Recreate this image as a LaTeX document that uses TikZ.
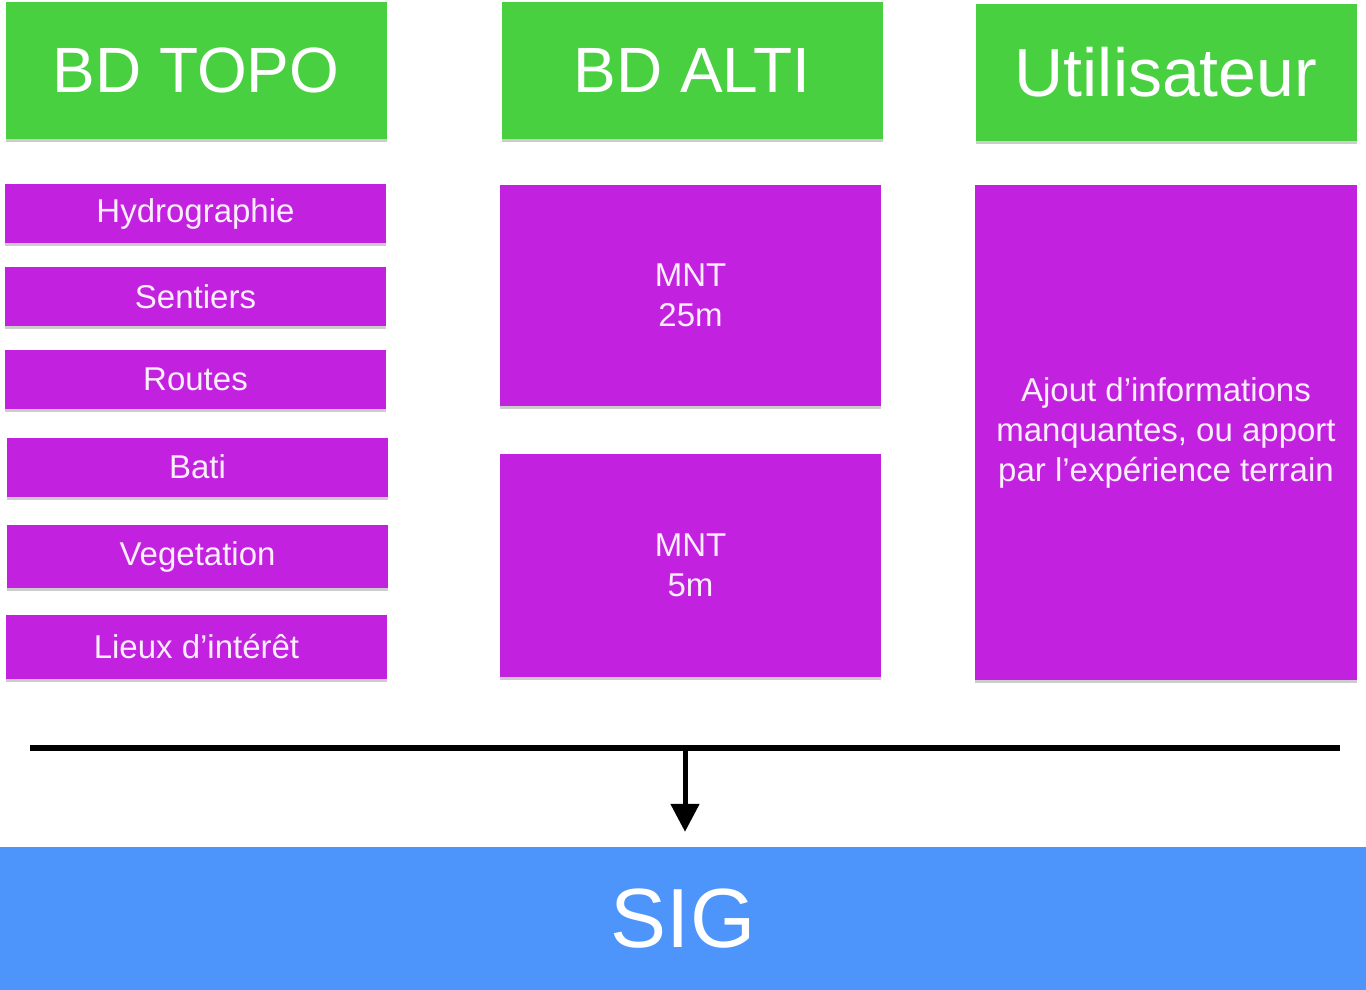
\documentclass[tikz,border=0pt]{standalone}
\usepackage{fontspec}
\setmainfont{Liberation Sans}
\usetikzlibrary{arrows.meta, positioning, shadows}
\definecolor{source_green}{RGB}{72, 208, 65}
\definecolor{layer_purple}{RGB}{194, 34, 223}
\definecolor{sig_blue}{RGB}{77, 148, 251}
\tikzset{
    source_node/.style={
        fill=source_green,
        minimum width=381pt,
        minimum height=137pt,
        inner sep=0pt,
        text=white,
        font=\fontsize{64}{70}\selectfont,
        drop shadow={shadow xshift=0pt, shadow yshift=-3pt, opacity=0.4}
    },
    layer_node/.style={
        fill=layer_purple,
        minimum width=381pt,
        minimum height=59pt,
        inner sep=0pt,
        text=white!92!layer_purple,
        align=center,
        font=\fontsize{33}{40}\selectfont,
        drop shadow={shadow xshift=0pt, shadow yshift=-3pt, opacity=0.4}
    },
    sig_node/.style={
        fill=sig_blue,
        minimum width=1366pt,
        minimum height=143pt,
        inner sep=0pt,
        text=white,
        font=\fontsize{84}{90}\selectfont
    },
    bar_style/.style={
        line width=6pt,
        draw=black
    },
    arrow_style/.style={
        -{Triangle[length=28pt,width=28pt]},
        line width=5pt,
        draw=black,
        shorten >=15pt
    }
}
\begin{document}
\begin{tikzpicture}[x=1pt, y=-1pt]
\useasboundingbox (0,0) rectangle (1366,990);

% Data sources
\node[source_node] (topo) at (196,70.5) {BD TOPO};
\node[source_node] (alti) at (692,70.5) {BD ALTI};
\node[source_node, font=\fontsize{68}{74}\selectfont] (user) at (1166,72.5) {Utilisateur};

% BD TOPO layers
\node[layer_node] (hydro) at (195.5,213.5) {Hydrographie};
\node[layer_node] (sentiers) at (195.5,296.5) {Sentiers};
\node[layer_node] (routes) at (195.5,379.5) {Routes};
\node[layer_node] (bati) at (197.5,467) {Bati};
\node[layer_node, minimum height=63pt] (vegetation) at (197.5,556.5) {Vegetation};
\node[layer_node, minimum height=64pt] (lieux) at (196.5,647) {Lieux d'intérêt};

% BD ALTI layers
\node[layer_node, minimum height=221pt] (mnt25) at (690.5,295.5) {MNT\\25m};
\node[layer_node, minimum height=223pt] (mnt5) at (690.5,565.5) {MNT\\5m};

% User input
\node[layer_node, minimum width=382pt, minimum height=495pt] (ajout) at (1166,432.5) {Ajout d'informations\\manquantes, ou apport\\par l'expérience terrain};

% Target
\node[sig_node] (sig) at (683,918.5) {SIG};

% Collecting bar and arrow
\coordinate (bar_left) at (30,748);
\coordinate (bar_right) at (1340,748);
\coordinate (bar_split) at (685,748);
\draw[bar_style] (bar_left) -- (bar_right);
\draw[arrow_style] (bar_split) -- (bar_split |- sig.north);

\end{tikzpicture}
\end{document}
